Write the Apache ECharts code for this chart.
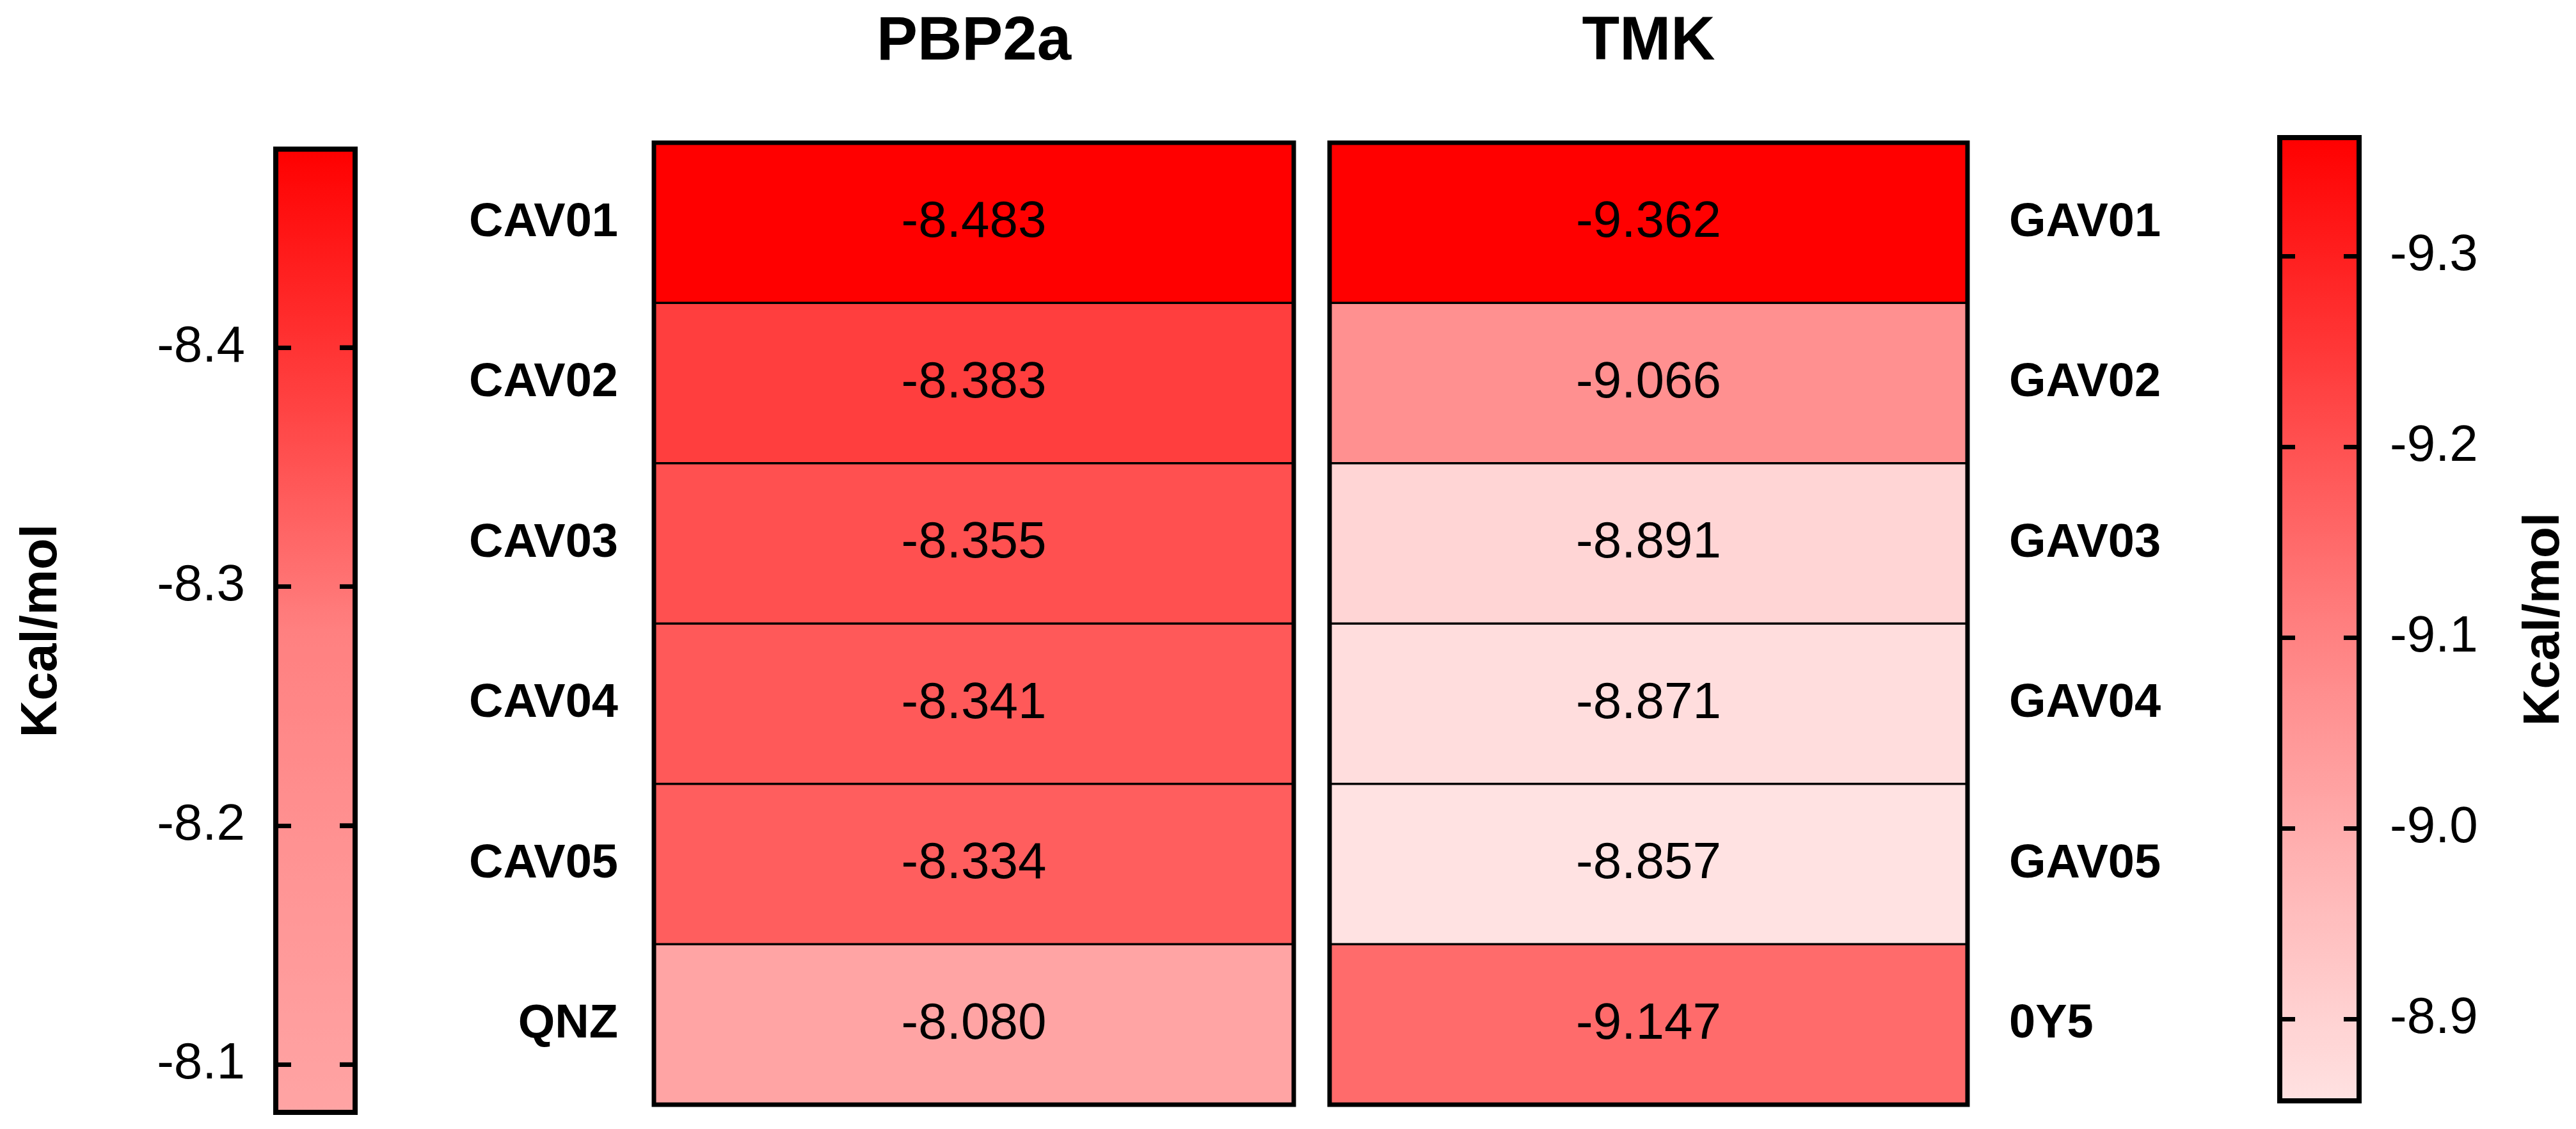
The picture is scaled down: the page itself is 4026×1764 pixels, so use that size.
<!DOCTYPE html>
<html>
<head>
<meta charset="utf-8">
<script src="https://cdn.jsdelivr.net/npm/echarts@6/dist/echarts.min.js"></script>
<style>
  html, body { margin: 0; padding: 0; background: #fff; }
  #main { width: 4026px; height: 1764px; }
</style>
</head>
<body>
<div id="main"></div>
<script>
// 数据
var panelTitles = ['PBP2a', 'TMK']
var pbpNames = ['CAV01', 'CAV02', 'CAV03', 'CAV04', 'CAV05', 'QNZ']
var pbpValues = [-8.483, -8.383, -8.355, -8.341, -8.334, -8.080]
var tmkNames = ['GAV01', 'GAV02', 'GAV03', 'GAV04', 'GAV05', '0Y5']
var tmkValues = [-9.362, -9.066, -8.891, -8.871, -8.857, -9.147]
var pbpTicks = [-8.4, -8.3, -8.2, -8.1]
var tmkTicks = [-9.3, -9.2, -9.1, -9.0, -8.9]
var unitName = 'Kcal/mol'

var FONT = '"Liberation Sans", Arial, sans-serif'
var pbpColors = ['#ff0000', '#ff3e3e', '#ff8080', '#ff9494', '#ffa4a4']
var tmkColors = ['#ff0000', '#ff3f3f', '#ff7e7e', '#ffb2b2', '#ffe2e2']

var pbpMin = Math.min.apply(null, pbpValues)
var pbpMax = Math.max.apply(null, pbpValues)
var tmkMin = Math.min.apply(null, tmkValues)
var tmkMax = Math.max.apply(null, tmkValues)

function cells (values) {
  return values.map(function (v, i) { return [0, i, v] })
}

// 布局
var heatTop = 223
var heatHeight = 1503
var barW = 124
var tickLen = 24
var bar1 = { left: 431, top: 233, height: 1505 }
var bar2 = { left: 3563, top: 215, height: 1505 }

function heatYAxis (grid, names, pos, margin) {
  return {
    type: 'category', gridIndex: grid, data: names, inverse: true, position: pos,
    axisLine: { show: false }, axisTick: { show: false }, splitLine: { show: false },
    axisLabel: { fontFamily: FONT, fontSize: 74, fontWeight: 'bold', color: '#000', margin: margin }
  }
}

function heatXAxis (grid, title) {
  return {
    type: 'category', gridIndex: grid, data: [title], position: 'top',
    axisLine: { show: false }, axisTick: { show: false }, splitLine: { show: false },
    axisLabel: { fontFamily: FONT, fontSize: 96, fontWeight: 'bold', color: '#000', margin: 108 }
  }
}

// 色条刻度轴
function barYAxis (grid, min, max, ticks, pos, showTick, withLabel, nameGap) {
  var ax = {
    type: 'value', gridIndex: grid, min: min, max: max, inverse: true, position: pos,
    zlevel: 2, z: 10,
    axisLine: { show: false, onZero: false },
    splitLine: { show: false },
    axisTick: { show: showTick, inside: true, length: tickLen, customValues: ticks.slice(), lineStyle: { color: '#000', width: 7 } },
    axisLabel: {
      show: withLabel, customValues: ticks.slice(), margin: 48,
      fontFamily: FONT, fontSize: 80, color: '#000',
      formatter: function (v) { return v.toFixed(1) }
    }
  }
  if (withLabel) {
    ax.name = unitName
    ax.nameLocation = 'middle'
    ax.nameRotate = 90
    ax.nameGap = nameGap
    ax.nameTextStyle = { fontFamily: FONT, fontSize: 80, fontWeight: 'bold', color: '#000' }
  }
  return ax
}

function hiddenX (grid) {
  return { type: 'value', gridIndex: grid, min: 0, max: 1, show: false, axisLine: { onZero: false } }
}

function barGrid (b) {
  return {
    left: b.left, width: barW, top: b.top, height: b.height,
    show: true, borderColor: '#000', borderWidth: 8, backgroundColor: 'transparent',
    zlevel: 2, z: 5
  }
}

function heatSeries (idx, values) {
  return {
    type: 'heatmap', xAxisIndex: idx, yAxisIndex: idx, data: cells(values),
    itemStyle: { borderColor: '#000', borderWidth: 3.5 },
    label: {
      show: true, fontFamily: FONT, fontSize: 80, color: '#000',
      formatter: function (p) { return p.value[2].toFixed(3) }
    },
    emphasis: { disabled: true }
  }
}

// 色条右侧内刻度 (x=1 即右边缘, 向内偏移)
function rightTicks (xIdx, yIdx, ticks) {
  return {
    type: 'scatter', xAxisIndex: xIdx, yAxisIndex: yIdx,
    data: ticks.map(function (v) { return [1, v] }),
    symbol: 'rect', symbolSize: [tickLen, 7], symbolOffset: [-tickLen / 2, 0],
    itemStyle: { color: '#000', opacity: 1 }, clip: false, silent: true,
    zlevel: 2, z: 10
  }
}

var chart = echarts.init(document.getElementById('main'), null, { renderer: 'canvas' })
chart.setOption({
  backgroundColor: '#fff',
  animation: false,
  grid: [
    { left: 1022, width: 1000, top: heatTop, height: heatHeight, show: true, borderColor: '#000', borderWidth: 7, backgroundColor: 'transparent', z: 3 },
    { left: 2078, width: 997, top: heatTop, height: heatHeight, show: true, borderColor: '#000', borderWidth: 7, backgroundColor: 'transparent', z: 3 },
    barGrid(bar1),
    barGrid(bar2)
  ],
  xAxis: [
    heatXAxis(0, panelTitles[0]),
    heatXAxis(1, panelTitles[1]),
    hiddenX(2),
    hiddenX(3)
  ],
  yAxis: [
    heatYAxis(0, pbpNames, 'left', 56),
    heatYAxis(1, tmkNames, 'right', 65),
    barYAxis(2, pbpMin, pbpMax, pbpTicks, 'left', true, true, 325),
    barYAxis(2, pbpMin, pbpMax, pbpTicks, 'right', true, false, 0),
    barYAxis(3, tmkMin, tmkMax, tmkTicks, 'left', true, false, 0),
    barYAxis(3, tmkMin, tmkMax, tmkTicks, 'right', true, true, 250)
  ],
  visualMap: [
    {
      type: 'continuous', seriesIndex: 0, min: pbpMin, max: pbpMax,
      orient: 'vertical', inverse: true, calculable: false, padding: 0,
      left: bar1.left, top: bar1.top, itemWidth: barW, itemHeight: bar1.height,
      inRange: { color: pbpColors }, zlevel: 0, z: 0
    },
    {
      type: 'continuous', seriesIndex: 1, min: tmkMin, max: tmkMax,
      orient: 'vertical', inverse: true, calculable: false, padding: 0,
      left: bar2.left, top: bar2.top, itemWidth: barW, itemHeight: bar2.height,
      inRange: { color: tmkColors }, zlevel: 0, z: 0
    }
  ],
  series: [
    heatSeries(0, pbpValues),
    heatSeries(1, tmkValues),
    rightTicks(2, 2, pbpTicks),
    rightTicks(3, 3, tmkTicks)
  ]
})
</script>
</body>
</html>
